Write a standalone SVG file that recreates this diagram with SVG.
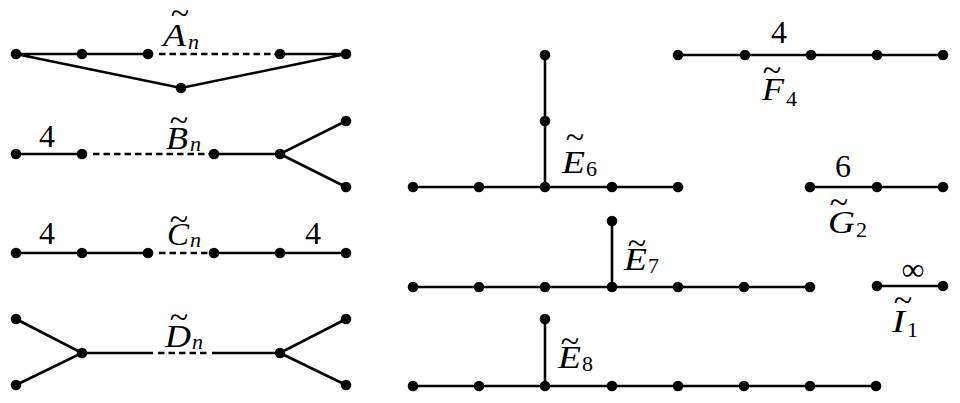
<svg xmlns="http://www.w3.org/2000/svg" width="960" height="403" viewBox="0 0 960 403">
<style>
.e{stroke:#000;stroke-width:2.6;fill:none}
.d{stroke:#000;stroke-width:2.6;fill:none;stroke-dasharray:6.5 4}
.n{fill:#000}
.t{font-family:"Liberation Serif","Times New Roman",serif;font-size:32px;fill:#000}
.i{font-style:italic}
.s{font-size:22px}
.u{font-style:normal}
.tl{font-family:"Liberation Serif","Times New Roman",serif;font-size:34px;fill:#000;text-anchor:middle}
</style>
<rect width="960" height="403" fill="#fff"/>
<g id="connectors">
<path class="e" d="M16 54H148M280 54H346M16 54L181 88L346 54"/>
<path class="d" d="M159 54H276"/>
<path class="e" d="M16 154H82M214 154H280L346 121M280 154L346 187"/>
<path class="d" d="M93 154H210"/>
<path class="e" d="M16 253H148M214 253H346"/>
<path class="d" d="M159 253H210"/>
<path class="e" d="M16 319L82 353L16 385M82 353H153M212 353H280L346 319M280 353L346 385"/>
<path class="d" d="M158 353H210"/>
<path class="e" d="M413 187H678M545 187V55"/>
<path class="e" d="M413 287H810M612 287V221"/>
<path class="e" d="M413 386H876M545 386V319"/>
<path class="e" d="M678 55H943"/>
<path class="e" d="M810 187H943"/>
<path class="e" d="M877 286H943"/>
</g>
<g id="A_n">
<circle class="n" cx="16" cy="54" r="5.3"/><circle class="n" cx="82" cy="54" r="5.3"/><circle class="n" cx="148" cy="54" r="5.3"/><circle class="n" cx="280" cy="54" r="5.3"/><circle class="n" cx="346" cy="54" r="5.3"/><circle class="n" cx="181" cy="88" r="5.3"/>
<text class="tl" x="180" y="24">~</text>
<text class="t i" x="163" y="46" textLength="23" lengthAdjust="spacingAndGlyphs">A</text>
<text class="t i s" x="188" y="49">n</text>
</g>
<g id="B_n">
<circle class="n" cx="16" cy="154" r="5.3"/><circle class="n" cx="82" cy="154" r="5.3"/><circle class="n" cx="214" cy="154" r="5.3"/><circle class="n" cx="280" cy="154" r="5.3"/><circle class="n" cx="346" cy="121" r="5.3"/><circle class="n" cx="346" cy="187" r="5.3"/>
<text class="t" x="47" y="147" text-anchor="middle">4</text>
<text class="tl" x="179" y="131">~</text>
<text class="t i" x="166" y="149" textLength="22" lengthAdjust="spacingAndGlyphs">B</text>
<text class="t i s" x="190" y="151">n</text>
</g>
<g id="C_n">
<circle class="n" cx="16" cy="253" r="5.3"/><circle class="n" cx="82" cy="253" r="5.3"/><circle class="n" cx="148" cy="253" r="5.3"/><circle class="n" cx="214" cy="253" r="5.3"/><circle class="n" cx="280" cy="253" r="5.3"/><circle class="n" cx="346" cy="253" r="5.3"/>
<text class="t" x="47" y="244" text-anchor="middle">4</text>
<text class="t" x="313" y="244" text-anchor="middle">4</text>
<text class="tl" x="179" y="230">~</text>
<text class="t i" x="167" y="245" textLength="22" lengthAdjust="spacingAndGlyphs">C</text>
<text class="t i s" x="190" y="247">n</text>
</g>
<g id="D_n">
<circle class="n" cx="16" cy="319" r="5.3"/><circle class="n" cx="16" cy="385" r="5.3"/><circle class="n" cx="82" cy="353" r="5.3"/><circle class="n" cx="280" cy="353" r="5.3"/><circle class="n" cx="346" cy="319" r="5.3"/><circle class="n" cx="346" cy="385" r="5.3"/>
<text class="tl" x="179" y="328">~</text>
<text class="t i" x="165" y="347" textLength="26" lengthAdjust="spacingAndGlyphs">D</text>
<text class="t i s" x="192" y="349">n</text>
</g>
<g id="E6">
<circle class="n" cx="413" cy="187" r="5.3"/><circle class="n" cx="479" cy="187" r="5.3"/><circle class="n" cx="545" cy="187" r="5.3"/><circle class="n" cx="612" cy="187" r="5.3"/><circle class="n" cx="678" cy="187" r="5.3"/><circle class="n" cx="545" cy="121" r="5.3"/><circle class="n" cx="545" cy="55" r="5.3"/>
<text class="tl" x="575" y="148">~</text>
<text class="t i" x="562" y="173" textLength="23" lengthAdjust="spacingAndGlyphs">E</text>
<text class="t s" x="586" y="176">6</text>
</g>
<g id="E7">
<circle class="n" cx="413" cy="287" r="5.3"/><circle class="n" cx="479" cy="287" r="5.3"/><circle class="n" cx="545" cy="287" r="5.3"/><circle class="n" cx="612" cy="287" r="5.3"/><circle class="n" cx="678" cy="287" r="5.3"/><circle class="n" cx="744" cy="287" r="5.3"/><circle class="n" cx="810" cy="287" r="5.3"/><circle class="n" cx="612" cy="221" r="5.3"/>
<text class="tl" x="637" y="254">~</text>
<text class="t i" x="624" y="270" textLength="23" lengthAdjust="spacingAndGlyphs">E</text>
<text class="t s" x="648" y="273">7</text>
</g>
<g id="E8">
<circle class="n" cx="413" cy="386" r="5.3"/><circle class="n" cx="479" cy="386" r="5.3"/><circle class="n" cx="545" cy="386" r="5.3"/><circle class="n" cx="612" cy="386" r="5.3"/><circle class="n" cx="678" cy="386" r="5.3"/><circle class="n" cx="744" cy="386" r="5.3"/><circle class="n" cx="810" cy="386" r="5.3"/><circle class="n" cx="876" cy="386" r="5.3"/><circle class="n" cx="545" cy="319" r="5.3"/>
<text class="tl" x="570" y="352">~</text>
<text class="t i" x="558" y="368" textLength="23" lengthAdjust="spacingAndGlyphs">E</text>
<text class="t s" x="582" y="371">8</text>
</g>
<g id="F4">
<circle class="n" cx="678" cy="55" r="5.3"/><circle class="n" cx="745" cy="55" r="5.3"/><circle class="n" cx="811" cy="55" r="5.3"/><circle class="n" cx="877" cy="55" r="5.3"/><circle class="n" cx="943" cy="55" r="5.3"/>
<text class="t" x="779" y="43" text-anchor="middle">4</text>
<text class="tl" x="772" y="81">~</text>
<text class="t i" x="762" y="100" textLength="22" lengthAdjust="spacingAndGlyphs">F</text>
<text class="t s" x="786" y="106">4</text>
</g>
<g id="G2">
<circle class="n" cx="810" cy="187" r="5.3"/><circle class="n" cx="877" cy="187" r="5.3"/><circle class="n" cx="943" cy="187" r="5.3"/>
<text class="t" x="843" y="177" text-anchor="middle">6</text>
<text class="tl" x="839" y="213">~</text>
<text class="t i" x="828" y="233" textLength="27" lengthAdjust="spacingAndGlyphs">G</text>
<text class="t s" x="856" y="237">2</text>
</g>
<g id="I1">
<circle class="n" cx="877" cy="286" r="5.3"/><circle class="n" cx="943" cy="286" r="5.3"/>
<text class="t" x="913" y="280" text-anchor="middle">∞</text>
<text class="tl" x="903" y="311">~</text>
<text class="t i" x="892" y="332" textLength="13" lengthAdjust="spacingAndGlyphs">I</text>
<text class="t s" x="907" y="337">1</text>
</g>
</svg>
